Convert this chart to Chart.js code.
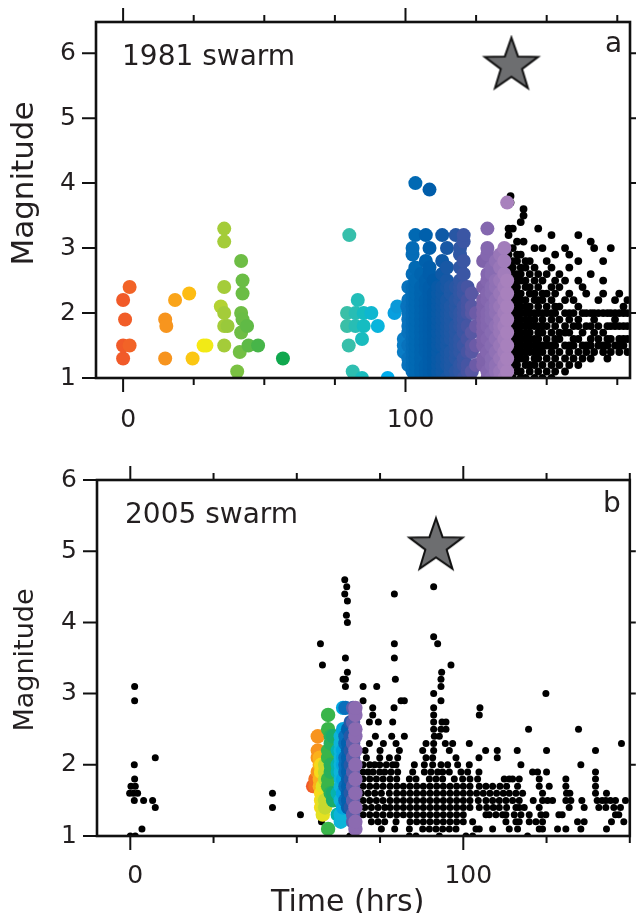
<!DOCTYPE html>
<html>
<head>
<meta charset="utf-8">
<script src="https://cdn.jsdelivr.net/npm/chart.js@4.4.0/dist/chart.umd.min.js"></script>
<style>
  body { margin: 0; background: #fff; }
  #wrap { position: relative; width: 637px; height: 913px; }
  canvas { position: absolute; left: 0; }
</style>
</head>
<body>
<div id="wrap">
  <canvas id="grafica1" width="637" height="440" style="top:0"></canvas>
  <canvas id="grafica2" width="637" height="473" style="top:440px"></canvas>
</div>
<script>
// ---- 1981 swarm (panel a) ----
// swarm events, columns of [time (hrs), [magnitudes]]
const swarm1981 = [
  [0, [1.3, 1.5, 2.2]], [0.7, [1.9]], [2.3, [1.5, 2.4]],
  [14.9, [1.3, 1.9]], [15.3, [1.8]], [18.4, [2.2]], [23.4, [2.3]], [24.6, [1.3]],
  [28.5, [1.5]], [29.5, [1.5]],
  [34.6, [2.1]], [35.8, [1.5, 1.8, 2.0, 2.4, 3.1, 3.3]], [37, [1.8]],
  [40.4, [1.1]], [41.3, [1.4]], [41.8, [1.7, 2.0, 2.8]], [42.3, [1.9, 2.3, 2.5]],
  [43.9, [1.8]], [44.4, [1.5]], [47.8, [1.5]], [56.6, [1.3]],
  [79.3, [1.8, 2.0]], [79.9, [1.5]], [80.1, [3.2]], [81.3, [1.1]], [82.3, [1.8, 2.0]],
  [83.1, [2.2]], [84.6, [1.0, 1.6]], [85.2, [1.8, 2.0]], [87.9, [2.0]], [90.2, [1.8]],
  [93.7, [1.0]], [96.1, [2.0]], [97.1, [2.1]], [99.4, [1.4, 1.5, 1.6]], [100.6, [2.1]],
  [101, [1.2, 1.3, 1.5, 1.7, 1.8, 1.9, 2.0, 2.2, 2.4]],
  [102.5, [1.1, 1.2, 1.3, 1.4, 1.5, 1.6, 1.7, 1.8, 1.9, 2.0, 2.1, 2.2, 2.3, 2.4, 2.6, 2.9, 3.0]],
  [103.5, [1.0, 1.1, 1.2, 1.3, 1.4, 1.5, 1.6, 1.7, 1.8, 1.9, 2.0, 2.1, 2.2, 2.3, 2.4, 2.5, 2.7, 3.2, 4.0]],
  [105.5, [1.0, 1.1, 1.2, 1.3, 1.4, 1.5, 1.6, 1.7, 1.8, 1.9, 2.0, 2.1, 2.2, 2.3, 2.4, 2.6]],
  [107.2, [1.0, 1.1, 1.2, 1.4, 1.5, 1.6, 1.7, 1.8, 1.9, 2.0, 2.1, 2.2, 2.4, 2.5, 2.8, 3.2]],
  [108.5, [1.0, 1.1, 1.2, 1.3, 1.4, 1.5, 1.6, 1.7, 1.8, 1.9, 2.0, 2.1, 2.2, 2.3, 2.4, 2.6, 2.7, 3.0, 3.9]],
  [110, [1.1, 1.2, 1.3, 1.4, 1.5, 1.6, 1.7, 1.8, 1.9, 2.0, 2.1, 2.2, 2.3, 2.5]],
  [111.5, [1.0, 1.1, 1.2, 1.3, 1.4, 1.5, 1.6, 1.7, 1.8, 1.9, 2.0, 2.1, 2.2, 2.3, 2.4]],
  [113, [1.0, 1.1, 1.2, 1.3, 1.5, 1.6, 1.7, 1.8, 1.9, 2.0, 2.1, 2.2, 2.3, 2.4, 2.6, 2.8, 3.2]],
  [114.7, [1.0, 1.2, 1.3, 1.4, 1.5, 1.6, 1.7, 1.8, 1.9, 2.0, 2.1, 2.2, 2.4, 2.5, 2.7, 3.0]],
  [116, [1.1, 1.2, 1.3, 1.4, 1.6, 1.7, 1.8, 1.9, 2.0, 2.1, 2.3, 2.4]],
  [117.8, [1.0, 1.1, 1.3, 1.4, 1.5, 1.6, 1.7, 1.8, 2.0, 2.1, 2.2, 2.4, 3.2]],
  [119.3, [1.1, 1.2, 1.4, 1.5, 1.6, 1.8, 1.9, 2.0, 2.2, 2.3, 2.4, 2.5, 2.7, 2.9, 3.0]],
  [120.6, [1.0, 1.2, 1.3, 1.5, 1.7, 1.8, 1.9, 2.0, 2.1, 2.3, 2.4, 2.6, 2.8, 3.1, 3.2]],
  [122, [1.1, 1.2, 1.4, 1.6, 1.8, 2.0, 2.1, 2.2, 2.4]],
  [123.5, [1.1, 1.4, 1.5, 1.7, 2.0, 2.1, 2.3]],
  [125, [1.2, 1.5, 1.8, 2.0]],
  [127.5, [1.2, 1.3, 1.5, 1.6, 1.7, 1.8, 1.9, 2.0, 2.1, 2.2, 2.4, 2.8]],
  [129, [1.0, 1.1, 1.4, 1.6, 1.8, 1.9, 2.0, 2.2, 2.3, 2.5, 2.6, 2.9, 3.0, 3.3]],
  [130.5, [1.0, 1.2, 1.3, 1.5, 1.7, 1.9, 2.0, 2.1, 2.3, 2.4, 2.6, 2.7]],
  [132, [1.1, 1.2, 1.4, 1.6, 1.8, 2.0, 2.1, 2.2, 2.4, 2.5, 2.8]],
  [133.5, [1.0, 1.1, 1.3, 1.5, 1.7, 1.8, 1.9, 2.1, 2.3, 2.5, 2.7, 2.9]],
  [135, [1.0, 1.2, 1.4, 1.6, 1.8, 2.0, 2.2, 2.4, 2.6, 2.8, 3.0]],
  [136, [1.1, 1.3, 1.5, 1.7, 1.9, 2.1, 2.3, 2.5, 3.7]]
];
// aftershocks, black
const after1981 = [
  [136.5, [1.0, 1.1, 1.2, 1.3, 1.4, 1.5, 1.6, 1.7, 1.8, 1.9, 2.0, 2.1, 2.2, 2.3, 2.4, 2.5, 2.6, 2.7, 2.8, 2.9, 3.0, 3.2, 3.3]],
  [137.2, [3.7, 3.8]],
  [138, [1.0, 1.2, 1.3, 1.4, 1.5, 1.6, 1.7, 1.8, 1.9, 2.0, 2.1, 2.2, 2.3, 2.4, 2.5, 2.6, 2.7, 2.8, 3.0, 3.3]],
  [139.5, [1.1, 1.2, 1.3, 1.4, 1.5, 1.6, 1.7, 1.8, 1.9, 2.0, 2.1, 2.2, 2.3, 2.4, 2.5, 2.6, 2.8, 2.9, 3.1]],
  [140.8, [1.0, 1.1, 1.3, 1.4, 1.5, 1.6, 1.7, 1.8, 1.9, 2.0, 2.1, 2.2, 2.3, 2.5, 2.6, 2.7, 2.9, 3.4]],
  [141.8, [3.1, 3.5, 3.6]],
  [142.5, [1.0, 1.2, 1.3, 1.4, 1.5, 1.6, 1.7, 1.8, 1.9, 2.0, 2.1, 2.2, 2.4, 2.5, 2.7, 2.8]],
  [144, [1.1, 1.2, 1.4, 1.5, 1.6, 1.7, 1.8, 1.9, 2.0, 2.1, 2.3, 2.4, 2.6, 2.8]],
  [145.7, [1.0, 1.2, 1.3, 1.4, 1.5, 1.6, 1.8, 1.9, 2.0, 2.2, 2.3, 2.5, 2.7, 3.0]],
  [147, [1.1, 1.3, 1.4, 1.5, 1.6, 1.7, 1.8, 2.0, 2.1, 2.2, 2.4, 2.6, 3.3]],
  [148.5, [1.0, 1.2, 1.4, 1.5, 1.7, 1.8, 1.9, 2.0, 2.2, 2.3, 2.5, 3.0]],
  [150, [1.1, 1.3, 1.5, 1.6, 1.8, 2.0, 2.1, 2.3, 2.6, 2.8]],
  [151.7, [1.0, 1.2, 1.4, 1.5, 1.7, 1.9, 2.0, 2.2, 2.4, 2.7, 3.2]],
  [153, [1.1, 1.3, 1.5, 1.6, 1.8, 2.0, 2.1, 2.3, 2.5, 2.9]],
  [154.5, [1.2, 1.4, 1.6, 1.7, 1.9, 2.1, 2.4, 2.6]],
  [156.5, [1.1, 1.3, 1.5, 1.7, 1.8, 2.0, 2.2, 2.5, 3.0]],
  [158, [1.2, 1.4, 1.5, 1.7, 1.9, 2.0, 2.3, 2.7, 2.9]],
  [159.5, [1.3, 1.5, 1.6, 1.8, 2.0, 2.2]],
  [161.2, [1.2, 1.4, 1.6, 1.8, 1.9, 2.1, 2.5, 2.8, 3.2]],
  [162.7, [1.3, 1.5, 1.7, 2.0, 2.4]],
  [164, [1.4, 1.5, 1.8, 2.0, 2.3]],
  [165.6, [1.3, 1.5, 1.6, 1.8, 2.0, 2.6, 3.1]],
  [166.8, [1.4, 1.7, 1.9, 2.0, 3.0]],
  [168.3, [1.5, 1.6, 1.8, 2.0, 2.2]],
  [170, [1.4, 1.5, 1.7, 2.0, 2.3, 2.5, 2.8]],
  [171.5, [1.3, 1.5, 1.6, 1.8, 2.0]],
  [172.7, [1.4, 1.6, 1.8, 2.0, 3.0]],
  [174.2, [1.5, 1.8, 1.9, 2.0, 2.2]],
  [175.7, [1.4, 1.5, 1.6, 1.8, 2.0, 2.3]],
  [177.2, [1.5, 1.6, 1.8, 2.0, 2.1]],
  [178.6, [1.4, 1.6, 1.8, 2.0, 2.2]]
];
const mainshock1981 = [137.5, 5.81];

// ---- 2005 swarm (panel b) ----
const swarm2005 = [
  [54.9, [1.7]], [55.6, [1.7, 1.8]], [56.3, [1.9, 2.1, 2.2, 2.4]], [56.9, [1.7, 1.8, 2.0, 2.1]],
  [57.3, [1.4, 1.5, 1.6, 1.9, 2.0]], [57.8, [1.3, 1.4, 1.5, 1.7]], [58.5, [1.4, 1.5, 1.8, 1.9, 2.0]],
  [59.4, [1.1, 1.7, 1.8, 2.1, 2.2, 2.5, 2.7]], [60.2, [1.6, 1.9, 2.0, 2.3, 2.4]], [60.9, [1.5, 1.6, 2.4]],
  [62.3, [1.3, 1.6, 1.9, 2.0, 2.2]],
  [63.2, [1.2, 1.3, 1.5, 1.7, 1.8, 1.9, 2.0, 2.1, 2.2, 2.3, 2.4]],
  [63.9, [1.4, 1.6, 1.8, 2.0, 2.1, 2.2, 2.5, 2.8]],
  [64.6, [1.5, 1.7, 1.9, 2.0, 2.1, 2.3, 2.4, 2.8]],
  [65.4, [1.4, 1.5, 1.6, 1.7, 1.8, 1.9, 2.0, 2.1, 2.2, 2.3, 2.5]],
  [66.2, [1.4, 1.6, 1.8, 2.0, 2.2, 2.4, 2.6]],
  [66.9, [1.2, 1.3, 1.5, 1.7, 1.9, 2.1, 2.3, 2.6, 2.8]],
  [67.6, [1.1, 1.2, 1.4, 1.6, 1.8, 2.0, 2.2, 2.4, 2.5, 2.7, 2.8]]
];
// other events, rows of [magnitude, [times]]
const other2005 = [
  [4.6, [64.4]], [4.5, [65.0, 91.1]], [4.4, [64.4, 79.3]], [4.3, [65.2]], [4.1, [64.9]], [4.0, [65.2]],
  [3.8, [91.1]], [3.7, [57.1, 79.3, 92.3]], [3.5, [64.6, 79.3]], [3.4, [57.7, 96.3]],
  [3.3, [65.2, 93.5]], [3.2, [63.9, 64.6, 79.6, 93.3]], [3.1, [1.3, 64.6, 69.9, 74.0, 93.3]],
  [3.0, [91.1, 124.8]], [2.9, [1.3, 69.9, 81.3, 82.3, 93.3]], [2.8, [72.8, 79.2, 91.1, 105.0]],
  [2.7, [72.8, 91.1, 104.8]], [2.6, [71.8, 74.5, 78.8, 91.1, 93.6, 94.8]],
  [2.5, [91.1, 93.3, 94.8, 119.6, 134.6]], [2.4, [73.6, 78.5, 82.3, 91.3, 92.8]],
  [2.3, [71.8, 76.0, 79.8, 88.8, 91.1, 94.6, 96.8, 101.8, 147.5]],
  [2.2, [70.5, 75.0, 80.8, 87.8, 91.1, 95.8, 106.7, 110.2, 116.2, 125.0, 139.7]],
  [2.1, [7.5, 70.9, 74.9, 77.8, 80.3, 88.8, 90.8, 97.8, 104.7, 110.2]],
  [2.0, [1.2, 69.9, 71.9, 73.4, 74.9, 76.9, 78.8, 79.8, 85.3, 88.3, 90.8, 93.3, 95.3, 98.3, 101.8, 117.3, 135.3]],
  [1.9, [69.9, 71.4, 72.9, 74.9, 76.4, 78.3, 80.3, 84.8, 88.3, 90.3, 92.3, 93.8, 95.8, 99.3, 101.3, 104.7, 120.8, 122.3, 125.0, 139.7]],
  [1.8, [1.3, 69.9, 71.9, 73.9, 75.9, 78.0, 80.0, 83.8, 85.8, 89.8, 91.8, 93.8, 97.3, 99.8, 102.0, 104.3, 112.3, 113.8, 114.8, 116.8, 122.8, 130.8, 139.7]],
  [1.7, [0.2, 1.5, 69.9, 71.9, 73.9, 75.9, 78.0, 80.0, 82.0, 84.0, 86.0, 88.0, 90.0, 92.0, 94.0, 96.0, 98.0, 100.0, 102.0, 104.8, 106.8, 108.8, 111.0, 113.0, 116.3, 122.8, 125.8, 130.8, 139.7]],
  [1.6, [-0.2, 1.0, 2.2, 42.7, 69.4, 71.4, 73.4, 75.4, 77.8, 80.0, 82.0, 84.0, 86.0, 88.0, 90.0, 92.0, 94.0, 96.0, 98.0, 100.0, 102.0, 104.0, 106.0, 108.0, 110.0, 112.0, 113.8, 115.8, 117.8, 123.8, 131.0, 132.0, 139.7, 143.0]],
  [1.5, [1.2, 4.0, 6.7, 69.9, 71.9, 73.9, 75.9, 78.0, 80.0, 82.0, 84.0, 86.0, 88.0, 90.0, 92.0, 94.0, 96.0, 98.0, 100.0, 102.0, 104.5, 106.8, 108.8, 110.8, 112.8, 114.8, 116.8, 121.0, 123.8, 125.3, 126.8, 130.8, 132.3, 135.6, 140.2, 141.7, 142.8, 144.2, 145.7, 148.7]],
  [1.4, [7.5, 42.7, 70.4, 72.4, 74.4, 76.4, 78.0, 80.0, 82.0, 84.0, 86.0, 88.0, 90.0, 92.0, 94.0, 96.0, 98.0, 100.0, 102.0, 104.8, 107.0, 109.0, 110.8, 113.0, 115.8, 116.8, 118.3, 122.8, 131.8, 136.3, 140.7, 142.8, 145.2, 147.2]],
  [1.3, [51.1, 69.9, 71.9, 73.9, 75.9, 78.0, 80.0, 82.0, 84.0, 86.0, 88.0, 90.0, 92.0, 94.0, 96.0, 98.0, 100.0, 106.8, 107.8, 109.8, 111.8, 112.8, 115.3, 117.3, 119.8, 123.3, 124.8, 128.7, 129.7, 145.7, 146.7]],
  [1.2, [57.4, 72.4, 74.4, 76.4, 79.8, 84.0, 86.0, 88.0, 90.0, 92.0, 94.0, 96.0, 98.0, 100.0, 102.8, 112.8, 115.8, 116.8, 119.8, 121.8, 123.8, 134.3, 136.3, 144.5, 148.2]],
  [1.1, [3.5, 75.4, 79.4, 83.8, 87.8, 89.8, 91.8, 93.8, 95.8, 97.8, 103.8, 104.8, 108.8, 113.8, 116.3, 122.8, 123.8, 128.3, 130.8, 135.3, 143.0]],
  [1.0, [0, 1.5, 65.9, 83.8, 85.8, 92.8, 100.8, 102.8, 119.3]]
];
const mainshock2005 = [91.8, 5.07];

// colour ramp along time, per panel
const ramp1981 = [
  [0, '#f15a29'], [15, '#f7941e'], [23, '#fdb913'], [29, '#f7ec13'], [35.8, '#a4cc39'],
  [42, '#6cbd45'], [56.6, '#10a84e'], [79.5, '#3abfa8'], [85, '#16bcc0'], [93.6, '#00aeef'],
  [97, '#0b9ad9'], [100, '#0a75c0'], [104, '#0067b1'], [110, '#005aa7'], [119, '#2e57a4'],
  [122.5, '#4a55a3'], [126, '#7a5ea8'], [131, '#8a6db3'], [136, '#a881bd']
];
const ramp2005 = [
  [54.9, '#f15a29'], [55.6, '#f26f23'], [56.3, '#f7941e'], [57, '#fcb61a'], [57.4, '#f5e51b'],
  [58.5, '#c6d92e'], [59.4, '#39b54a'], [60.9, '#1aac6b'], [62.3, '#06b2ae'], [63.2, '#0db4d9'],
  [64, '#00a3e0'], [64.6, '#0a6fbb'], [65.8, '#005aa7'], [66.6, '#4b59a6'], [67.6, '#8c6bb1']
];

function byColumn(cols) {
  const pts = [];
  cols.forEach(([t, mags]) => mags.forEach(m => pts.push({ x: t, y: m })));
  return pts;
}
function byRow(rows) {
  const pts = [];
  rows.forEach(([m, times]) => times.forEach(t => pts.push({ x: t, y: m })));
  return pts;
}
function rgb(h) {
  return [1, 3, 5].map(i => parseInt(h.slice(i, i + 2), 16));
}
function colorAt(ramp, t) {
  if (t <= ramp[0][0]) return ramp[0][1];
  for (let i = 1; i < ramp.length; i++) {
    if (t <= ramp[i][0]) {
      const f = (t - ramp[i - 1][0]) / (ramp[i][0] - ramp[i - 1][0]);
      const a = rgb(ramp[i - 1][1]), b = rgb(ramp[i][1]);
      return 'rgb(' + a.map((v, k) => Math.round(v + (b[k] - v) * f)).join(',') + ')';
    }
  }
  return ramp[ramp.length - 1][1];
}

function makeStar(R) {
  const c = document.createElement('canvas');
  const s = Math.ceil(2 * R + 6);
  c.width = s; c.height = s;
  const g = c.getContext('2d');
  g.translate(s / 2, s / 2);
  g.beginPath();
  for (let i = 0; i < 10; i++) {
    const r = i % 2 ? R * 0.4 : R;
    const a = -Math.PI / 2 + i * Math.PI / 5;
    g.lineTo(r * Math.cos(a), r * Math.sin(a));
  }
  g.closePath();
  g.fillStyle = '#6d6e70';
  g.fill();
  g.lineWidth = 2;
  g.strokeStyle = '#111';
  g.stroke();
  return c;
}
const star = makeStar(28);

Chart.defaults.font.family = "'DejaVu Sans', sans-serif";
Chart.defaults.color = '#231f20';

// frame, tick marks and panel texts
const framePlugin = {
  id: 'frame',
  afterDatasetsDraw(chart, args, opts) {
    const { ctx, chartArea: a } = chart;
    const x = chart.scales.x, y = chart.scales.y;
    ctx.save();
    ctx.strokeStyle = '#111';
    ctx.lineWidth = 2;
    ctx.beginPath();
    opts.xMajor.forEach(v => {
      const p = x.getPixelForValue(v);
      ctx.moveTo(p, a.top); ctx.lineTo(p, a.top - 14);
      ctx.moveTo(p, a.bottom); ctx.lineTo(p, a.bottom + 14);
    });
    opts.xMinor.forEach(v => {
      const p = x.getPixelForValue(v);
      ctx.moveTo(p, a.top); ctx.lineTo(p, a.top - 7);
      ctx.moveTo(p, a.bottom); ctx.lineTo(p, a.bottom + 7);
    });
    opts.yTicks.forEach(v => {
      const p = y.getPixelForValue(v);
      ctx.moveTo(a.left, p); ctx.lineTo(a.left - 14, p);
    });
    opts.rightTicks.forEach(v => {
      const p = y.getPixelForValue(v);
      ctx.moveTo(a.right, p); ctx.lineTo(a.right + 6, p);
    });
    ctx.stroke();
    ctx.lineWidth = 2.6;
    ctx.strokeRect(a.left, a.top, a.right - a.left, a.bottom - a.top);
    opts.texts.forEach(tx => {
      ctx.save();
      ctx.font = tx.font;
      ctx.fillStyle = '#231f20';
      ctx.translate(tx.x, tx.y);
      if (tx.rot) ctx.rotate(tx.rot);
      ctx.textAlign = tx.align || 'left';
      ctx.textBaseline = 'alphabetic';
      ctx.fillText(tx.text, 0, 0);
      ctx.restore();
    });
    ctx.restore();
  }
};

function makeChart(id, cfg) {
  const swarmPts = byColumn(cfg.swarm);
  return new Chart(document.getElementById(id).getContext('2d'), {
    type: 'scatter',
    data: {
      datasets: [
        {
          data: [{ x: cfg.main[0], y: cfg.main[1] }],
          pointStyle: star,
          clip: false
        },
        {
          data: swarmPts,
          backgroundColor: swarmPts.map(p => colorAt(cfg.ramp, p.x)),
          pointRadius: cfg.bigR,
          borderWidth: 0,
          clip: 0
        },
        {
          data: cfg.others,
          backgroundColor: '#000',
          pointRadius: cfg.smallR,
          borderWidth: 0,
          clip: 0
        }
      ]
    },
    options: {
      responsive: false,
      devicePixelRatio: 1,
      animation: false,
      events: [],
      layout: { padding: { top: cfg.top, right: 7, left: 0, bottom: 0 } },
      plugins: {
        legend: { display: false },
        tooltip: { enabled: false },
        frame: cfg.frame
      },
      scales: {
        x: {
          type: 'linear',
          position: 'bottom',
          min: cfg.xMin,
          max: cfg.xMax,
          grid: { display: false, drawTicks: false },
          border: { display: false },
          afterBuildTicks: s => { s.ticks = [{ value: 0 }, { value: 100 }]; },
          afterFit: s => { s.height = cfg.xHeight; s.paddingLeft = 0; s.paddingRight = 0; },
          ticks: { font: { size: 25 }, padding: cfg.xPad, labelOffset: 5, maxRotation: 0 }
        },
        y: {
          type: 'linear',
          position: 'left',
          min: 1,
          max: cfg.yMax,
          grid: { display: false, drawTicks: false },
          border: { display: false },
          afterBuildTicks: s => { s.ticks = [1, 2, 3, 4, 5, 6].map(v => ({ value: v })); },
          afterFit: s => { s.width = cfg.yWidth; s.paddingTop = 0; s.paddingBottom = 0; },
          ticks: { font: { size: 25 }, padding: 20 }
        }
      }
    },
    plugins: [framePlugin]
  });
}

makeChart('grafica1', {
  swarm: swarm1981,
  others: byColumn(after1981),
  main: mainshock1981,
  ramp: ramp1981,
  bigR: 7,
  smallR: 3.9,
  top: 22,
  xMin: -9.6, xMax: 179.5,
  yMax: 6.48,
  xHeight: 62,
  yWidth: 96,
  xPad: 27,
  frame: {
    xMajor: [0, 100],
    xMinor: [25, 50, 75, 125, 150, 175],
    yTicks: [1, 2, 3, 4, 5, 6],
    rightTicks: [2, 3, 4, 5, 6],
    texts: [
      { text: '1981 swarm', x: 122, y: 65, font: "28px 'DejaVu Sans'" },
      { text: 'a', x: 605, y: 52, font: "28px 'DejaVu Sans'" },
      { text: 'Magnitude', x: 33, y: 183.5, rot: -Math.PI / 2, align: 'center', font: "31px 'DejaVu Sans'" }
    ]
  }
});

makeChart('grafica2', {
  swarm: swarm2005,
  others: byRow(other2005),
  main: mainshock2005,
  ramp: ramp2005,
  bigR: 7.2,
  smallR: 3.5,
  top: 40,
  xMin: -10, xMax: 150,
  yMax: 6,
  xHeight: 77,
  yWidth: 97,
  xPad: 25,
  frame: {
    xMajor: [0, 100],
    xMinor: [25, 50, 75, 125, 150],
    yTicks: [1, 2, 3, 4, 5, 6],
    rightTicks: [2, 3, 4, 5],
    texts: [
      { text: '2005 swarm', x: 125, y: 83, font: "28px 'DejaVu Sans'" },
      { text: 'b', x: 603, y: 72, font: "28px 'DejaVu Sans'" },
      { text: 'Magnitude', x: 33, y: 220, rot: -Math.PI / 2, align: 'center', font: "27px 'DejaVu Sans'" },
      { text: 'Time (hrs)', x: 271, y: 471, font: "30px 'DejaVu Sans'" }
    ]
  }
});
</script>
</body>
</html>
